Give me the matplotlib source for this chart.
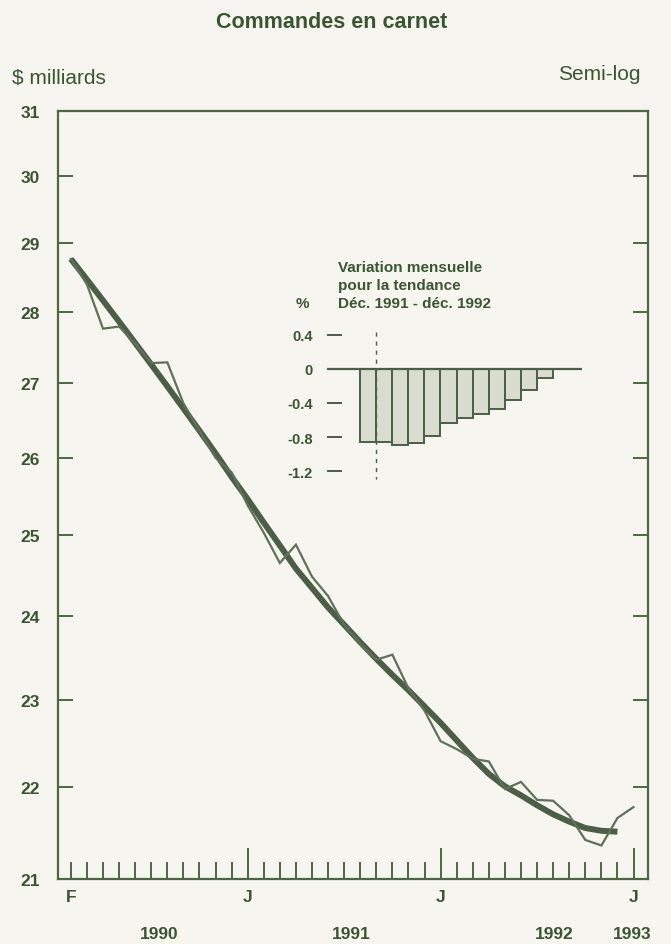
import numpy as np
import matplotlib
matplotlib.use("Agg")
import matplotlib.pyplot as plt
from matplotlib.ticker import FixedLocator, NullLocator
from matplotlib.transforms import blended_transform_factory

# ---------------- data ----------------
title = "Commandes en carnet"
y_unit = "$ milliards"
scale_note = "Semi-log"

# months Feb 1990 .. Jan 1993 (tick labels, only F and J shown)
month_labels = ["F", "", "", "", "", "", "", "", "", "", "",
                "J", "", "", "", "", "", "", "", "", "", "", "",
                "J", "", "", "", "", "", "", "", "", "", "", "",
                "J"]
year_labels = ["1990", "1991", "1992", "1993"]

# trend (thick line), Feb 1990 .. Dec 1992, $ billions
trend = [28.76, 28.46, 28.16, 27.86, 27.56, 27.26, 26.96, 26.66, 26.36, 26.06,
         25.75, 25.46, 25.16, 24.87, 24.58, 24.34, 24.10, 23.89, 23.68, 23.48,
         23.29, 23.11, 22.92, 22.73, 22.53, 22.33, 22.15, 22.01, 21.91, 21.80,
         21.70, 21.62, 21.55, 21.52, 21.51]

# actual (thin line), Feb 1990 .. Jan 1993, $ billions
actual = [28.76, 28.39, 27.76, 27.79, 27.55, 27.28, 27.29, 26.73, 26.36, 26.00,
          25.81, 25.38, 25.03, 24.65, 24.88, 24.48, 24.24, 23.89, 23.66, 23.47,
          23.53, 23.13, 22.87, 22.52, 22.43, 22.32, 22.29, 21.98, 22.06, 21.86,
          21.85, 21.69, 21.42, 21.36, 21.66, 21.78]

y_ticks = [21, 22, 23, 24, 25, 26, 27, 28, 29, 30, 31]

# inset: monthly change of trend, Dec 1991 .. Nov 1992 (%)
inset_lines = ["Variation mensuelle", "pour la tendance", "Déc. 1991 - déc. 1992"]
inset_unit = "%"
inset_changes = [-0.855, -0.855, -0.887, -0.867, -0.785, -0.634,
                 -0.575, -0.525, -0.467, -0.370, -0.253, -0.109]
inset_yticks = [0.4, 0.0, -0.4, -0.8, -1.2]
inset_yticklabels = ["0.4", "0", "-0.4", "-0.8", "-1.2"]

# ---------------- style ----------------
BG = "#f6f5f0"
INK = "#3a5630"
LINE = "#4a5f45"
FRAME = "#4d6842"
THIN = "#5f7259"
BARFILL = "#d9dccf"
FONT = ["Liberation Sans", "DejaVu Sans"]
plt.rcParams["font.family"] = FONT
plt.rcParams["hatch.color"] = "#aab29e"
plt.rcParams["hatch.linewidth"] = 0.6

W, H = 671, 945
fig = plt.figure(figsize=(W / 100, H / 100), dpi=100, facecolor=BG)

def fx(px):
    return px / W

def fy(py):
    return 1 - py / H

# main axes: frame from x=58..648, y=112..880
ax = fig.add_axes([fx(58), fy(880), (648 - 58) / W, (880 - 112) / H])
ax.set_facecolor(BG)
ax.set_yscale("log")
ax.set_ylim(21, 31)
ax.set_xlim(-0.8, 35.9)

xt = np.arange(len(trend))
xa = np.arange(len(actual))
ax.plot(xt, trend, color=LINE, lw=4.3, solid_capstyle="butt",
        solid_joinstyle="round", zorder=3)
ax.plot(xa, actual, color=THIN, lw=1.6, solid_joinstyle="miter", zorder=4)

for s in ax.spines.values():
    s.set_color(FRAME)
    s.set_linewidth(1.6)

ax.yaxis.set_major_locator(FixedLocator(y_ticks))
ax.yaxis.set_minor_locator(NullLocator())
ax.set_yticklabels([str(v) for v in y_ticks])
ax.tick_params(axis="y", which="major", direction="in", length=10.5, width=1.4,
               left=True, right=True, labelleft=True, labelright=False,
               pad=13, labelsize=12.5, colors=FRAME, labelcolor=INK)
for lbl in ax.get_yticklabels():
    lbl.set_fontweight("bold")

ax.set_xticks(np.arange(len(month_labels)))
ax.set_xticklabels(month_labels)
ax.xaxis.set_minor_locator(NullLocator())
ax.tick_params(axis="x", which="major", direction="in", length=12.5, width=1.4,
               top=False, pad=7, labelsize=12.5, colors=FRAME, labelcolor=INK)
for tk, lab in zip(ax.xaxis.get_major_ticks(), month_labels):
    if lab == "J":
        tk.tick1line.set_markersize(22.5)
for lbl in ax.get_xticklabels():
    lbl.set_fontweight("bold")

# year labels under the axis
year_pos = [5.5, 17.45, 30.05, 34.9]
trans = blended_transform_factory(ax.transData, ax.transAxes)
for yp, yl in zip(year_pos, year_labels):
    ax.text(yp, -0.0716, yl, transform=trans, ha="center", va="center",
            fontsize=12.5, fontweight="bold", color=INK)

# titles
fig.text(fx(332), fy(23), title, ha="center", va="center", fontsize=15.5,
         fontweight="bold", color=INK)
fig.text(fx(12), fy(78), y_unit, ha="left", va="center", fontsize=15,
         color=INK)
fig.text(fx(641), fy(74), scale_note, ha="right", va="center", fontsize=15,
         color=INK)

# ---------------- inset ----------------
axin = fig.add_axes([fx(327), fy(481), (582 - 327) / W, (481 - 327) / H])
axin.patch.set_alpha(0)
axin.set_xlim(-2.55, 13.29)
axin.set_ylim(-1.3, 0.5)
for s in axin.spines.values():
    s.set_visible(False)
xb = np.arange(len(inset_changes))
bars = axin.bar(xb, inset_changes, width=1.0, color=BARFILL, edgecolor=LINE,
                linewidth=1.4, zorder=2)
axin.axhline(0, color=LINE, lw=1.6, zorder=3)
axin.plot([0.5, 0.5], [0.43, -1.29], color=LINE, lw=1.0,
          ls=(0, (3, 3.5)), zorder=4)
axin.set_xticks([])
axin.set_yticks(inset_yticks)
axin.set_yticklabels(inset_yticklabels)
axin.tick_params(axis="y", direction="in", length=10.8, width=1.4, pad=10,
                 labelsize=10.5, colors=LINE, labelcolor=INK)
for lbl in axin.get_yticklabels():
    lbl.set_fontweight("bold")

line_y = [268, 286, 304]
for ty, tl in zip(line_y, inset_lines):
    fig.text(fx(338), fy(ty), tl, ha="left", va="center", fontsize=11,
             fontweight="bold", color=INK)
fig.text(fx(302), fy(304), inset_unit, ha="center", va="center", fontsize=11,
         fontweight="bold", color=INK)

fig.savefig("out.png", dpi=100, facecolor=BG)
